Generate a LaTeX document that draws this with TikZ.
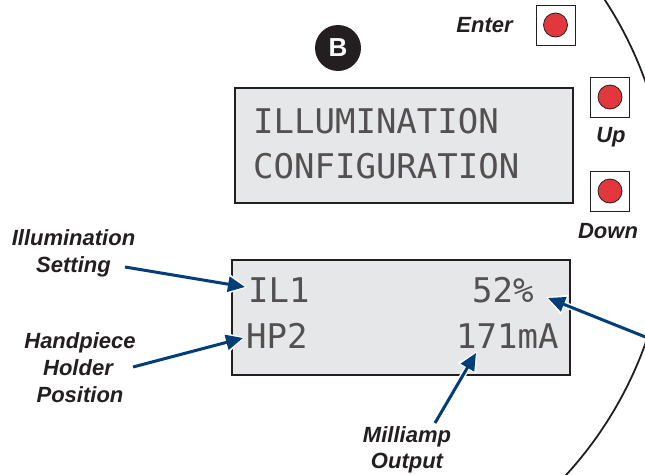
\documentclass[tikz,border=0pt]{standalone}
\usepackage{fontspec}
\setmainfont{Liberation Sans}
\newfontfamily\lcdfont{DejaVu Sans Mono}
\usetikzlibrary{arrows.meta}
\definecolor{ink}{HTML}{231F20}
\definecolor{lcdbg}{HTML}{E6E7E8}
\definecolor{navy}{RGB}{0,61,121}
\definecolor{btnred}{HTML}{E2373D}
\begin{document}
\begin{tikzpicture}[x=1pt,y=-1pt,
  lcdbox/.style={draw=ink,fill=lcdbg,line width=1.5pt},
  lcdtext/.style={font=\lcdfont\fontsize{34}{40}\selectfont, text=ink!78, inner sep=0pt, anchor=base west},
  lbl/.style={font=\bfseries\itshape\fontsize{22}{27}\selectfont, text=ink, inner sep=0pt, anchor=base},
  btn/.style={draw=ink, fill=white, line width=1pt, minimum width=39pt, minimum height=40pt, inner sep=0pt},
  led/.style={circle, draw=ink, fill=btnred, line width=0.8pt, minimum size=24pt, inner sep=0pt},
  arr/.style={draw=navy, line width=3pt, -{Triangle[length=17pt,width=15pt]}},
  halo/.style={draw=white, line width=6pt, shorten >=-2pt, -{Triangle[length=20pt,width=20pt]}}
]
\useasboundingbox (0,0) rectangle (645,474);
\fill[white] (0,0) rectangle (645,474);

% outer housing arc
\begin{scope}
  \clip (0,0) rectangle (645,474);
  \draw[ink, line width=1.8pt] (279,212.5) circle[radius=389];
\end{scope}

% B badge
\node[circle, fill=ink, minimum size=46pt, inner sep=0pt, text=white,
      font=\bfseries\fontsize{26}{26}\selectfont] (badge) at (338,48) {B};

% top LCD
\draw[lcdbox] (235,88) rectangle (573,203);
\node[lcdtext] (l1) at (253,133) {ILLUMINATION};
\node[lcdtext] (l2) at (253,178) {CONFIGURATION};

% bottom LCD
\draw[lcdbox] (232,260) rectangle (570,375);
\node[lcdtext] (il) at (248,302) {IL1};
\node[lcdtext] (pct) at (472,302) {52\%};
\node[lcdtext] (hp) at (246,348) {HP2};
\node[lcdtext] (ma) at (456,348) {171mA};

% buttons
\node[btn] (enterbtn) at (555.5,25) {};
\node[led] at (enterbtn.center) {};
\node[btn] (upbtn) at (610,97) {};
\node[led] at (upbtn.center) {};
\node[btn] (downbtn) at (610,191) {};
\node[led] at (downbtn.center) {};

\node[lbl] (enterlbl) at (484.5,32) {Enter};
\node[lbl] (uplbl) at (611,142) {Up};
\node[lbl] (downlbl) at (608,238) {Down};

% callout labels
\node[lbl] (illA) at (73.5,245) {Illumination};
\node[lbl] (illB) at (73.5,272) {Setting};
\node[lbl] (hpA) at (80,348) {Handpiece};
\node[lbl] (hpB) at (78,375) {Holder};
\node[lbl] (hpC) at (80,402) {Position};
\node[lbl] (maA) at (407,442) {Milliamp};
\node[lbl] (maB) at (407,468) {Output};

% arrow coordinates
\coordinate (s1) at (125,267); \coordinate (t1) at (245,287);
\coordinate (s2) at (133,367); \coordinate (t2) at (243,338);
\coordinate (s3) at (648,338); \coordinate (t3) at (548,298);
\coordinate (s4) at (435,423); \coordinate (t4) at (476,353);

\foreach \s/\t in {s1/t1,s2/t2,s3/t3,s4/t4}{
  \draw[halo] (\s) -- (\t);
  \draw[arr] (\s) -- (\t);
}
\end{tikzpicture}
\end{document}
